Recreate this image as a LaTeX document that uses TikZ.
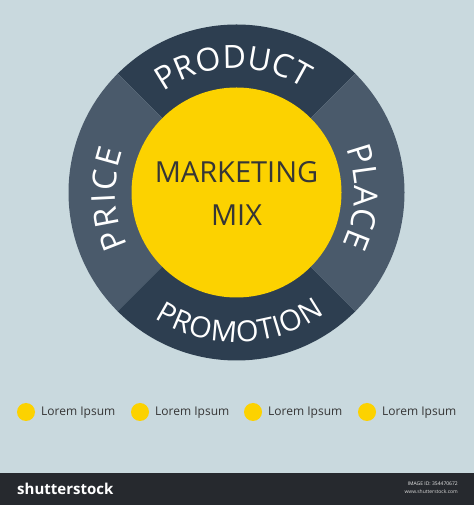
\documentclass[tikz,border=0pt]{standalone}
\usepackage{fontspec}
\setmainfont{Open Sans}
\usetikzlibrary{decorations.text}
\definecolor{bg}{HTML}{C9D9DE}
\definecolor{navy}{HTML}{2D3E50}
\definecolor{slate}{HTML}{4A5A6B}
\definecolor{mkyellow}{HTML}{FCD200}
\definecolor{txt}{HTML}{363636}
\definecolor{bar}{HTML}{26292E}
\tikzset{
  arcword/.style 2 args={decorate, decoration={text along path, text color=white,
     text={|\fontsize{#1}{#1}\selectfont|#2}, text align={fit to path}}},
  dot/.style={circle, fill=mkyellow, minimum size=18pt, inner sep=0pt},
  legendtext/.style={anchor=base west, inner sep=0pt, text=txt, font=\fontsize{12}{12}\selectfont},
  centertext/.style={text=txt, inner sep=0pt, font=\fontsize{29}{29}\selectfont}
}
\begin{document}
\begin{tikzpicture}[x=1pt,y=1pt]
\fill[bg] (0,0) rectangle (474,505);
\useasboundingbox (0,0) rectangle (474,505);
\coordinate (C) at (236.5,312.5);
% ring sectors
\fill[navy]  (C) -- ++(45:168)  arc[start angle=45,  end angle=135, radius=168] -- cycle;
\fill[slate] (C) -- ++(135:168) arc[start angle=135, end angle=225, radius=168] -- cycle;
\fill[navy]  (C) -- ++(225:168) arc[start angle=225, end angle=315, radius=168] -- cycle;
\fill[slate] (C) -- ++(315:168) arc[start angle=315, end angle=405, radius=168] -- cycle;
% core
\node[circle, fill=mkyellow, minimum size=210pt, inner sep=0pt] (core) at (C) {};
\node[centertext] (mk) at (236.5,333) {MARKETING};
\node[centertext] (mix) at (236.5,290) {MIX};
% words on the ring
\path[arcword={32}{PRODUCT}] (C) ++(126:124) arc[start angle=126, end angle=57, radius=124];
\path[arcword={29}{PROMOTION}] (C) ++(237:150) arc[start angle=237, end angle=306, radius=150];
\path[arcword={33}{PRICE}] (C) ++(206:121) arc[start angle=206, end angle=160, radius=121];
\path[arcword={33}{PLACE}] (C) ++(22:118) arc[start angle=22, end angle=-26, radius=118];
% legend
\node[dot] (d1) at (26,93) {};
\node[dot] (d2) at (140,93) {};
\node[dot] (d3) at (253,93) {};
\node[dot] (d4) at (367,93) {};
\node[legendtext] (l1) at (41,89) {Lorem Ipsum};
\node[legendtext] (l2) at (155,89) {Lorem Ipsum};
\node[legendtext] (l3) at (268,89) {Lorem Ipsum};
\node[legendtext] (l4) at (382,89) {Lorem Ipsum};
% bottom bar
\fill[bar] (0,0) rectangle (474,32);
\node[anchor=west, inner sep=0pt, text=white, font=\fontsize{15}{15}\selectfont\bfseries] (brand) at (17,16) {shutterstock};
\node[anchor=east, inner sep=0pt, text=white!85!gray, font=\fontsize{5}{5}\selectfont] (imgid) at (458,21) {IMAGE ID: 354470672};
\node[anchor=east, inner sep=0pt, text=white!70!gray, font=\fontsize{5}{5}\selectfont] (site) at (458,13.5) {www.shutterstock.com};
\end{tikzpicture}
\end{document}
